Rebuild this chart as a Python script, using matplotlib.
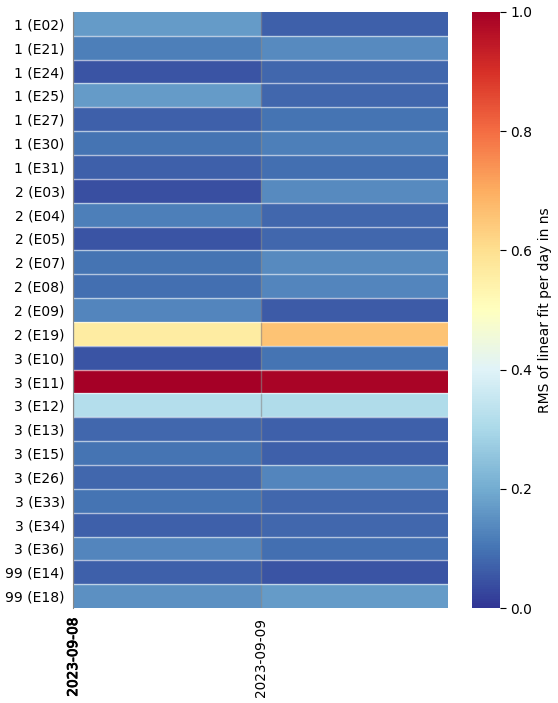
import numpy as np
import matplotlib
matplotlib.use("Agg")
import matplotlib.pyplot as plt
import matplotlib.patheffects as pe

stations = ["1 (E02)", "1 (E21)", "1 (E24)", "1 (E25)", "1 (E27)", "1 (E30)", "1 (E31)",
            "2 (E03)", "2 (E04)", "2 (E05)", "2 (E07)", "2 (E08)", "2 (E09)", "2 (E19)",
            "3 (E10)", "3 (E11)", "3 (E12)", "3 (E13)", "3 (E15)", "3 (E26)", "3 (E33)",
            "3 (E34)", "3 (E36)", "99 (E14)", "99 (E18)"]
days = ["2023-09-08", "2023-09-09"]
rms_0908 = [0.17, 0.12, 0.05, 0.17, 0.07, 0.10, 0.07,
            0.04, 0.12, 0.05, 0.10, 0.09, 0.13, 0.56,
            0.05, 1.00, 0.32, 0.08, 0.10, 0.08, 0.10,
            0.07, 0.13, 0.07, 0.15]
rms_0909 = [0.07, 0.14, 0.08, 0.08, 0.10, 0.12, 0.09,
            0.14, 0.08, 0.08, 0.14, 0.13, 0.06, 0.66,
            0.10, 0.99, 0.31, 0.07, 0.07, 0.13, 0.08,
            0.08, 0.09, 0.05, 0.17]

data = np.column_stack([rms_0908, rms_0909])

fig = plt.figure(figsize=(5.58, 7.03), dpi=100)
ax = fig.add_axes([0.131, 0.135, 0.672, 0.848])
cax = fig.add_axes([0.846, 0.135, 0.05, 0.848])

mesh = ax.pcolormesh(np.arange(len(days) + 1), np.arange(len(stations) + 1), data,
                     cmap="RdYlBu_r", vmin=0, vmax=1)
ax.set_xlim(0, len(days))
ax.set_ylim(len(stations), 0)

ax.set_yticks(np.arange(len(stations)) + 0.5)
ax.set_yticklabels(stations, fontsize=10)
ax.set_yticks(np.arange(1, len(stations)), minor=True)
ax.set_xticks([0, 1])
ax.set_xticklabels(days, rotation=90, fontsize=9.8)
# first date label looks heavier in the original (drawn twice)
ax.get_xticklabels()[0].set_path_effects([pe.withStroke(linewidth=0.6, foreground="black")])
ax.tick_params(axis="both", which="both", length=0)
ax.tick_params(axis="y", pad=6)
ax.tick_params(axis="x", pad=7)

ax.grid(True, axis="y", which="minor", color="white", alpha=0.6, lw=1)
ax.grid(True, axis="x", which="major", color="#888888", alpha=0.6, lw=1)
for s in ["top", "right", "bottom"]:
    ax.spines[s].set_visible(False)
ax.spines["left"].set_color("#888888")
ax.spines["left"].set_linewidth(0.8)

cb = fig.colorbar(mesh, cax=cax)
cb.set_label("RMS of linear fit per day in ns", fontsize=10)
cb.outline.set_visible(False)
cb.ax.tick_params(labelsize=10, length=4, width=0.8)
cb.set_ticks([0, 0.2, 0.4, 0.6, 0.8, 1.0])

fig.savefig("out.png", dpi=100)
